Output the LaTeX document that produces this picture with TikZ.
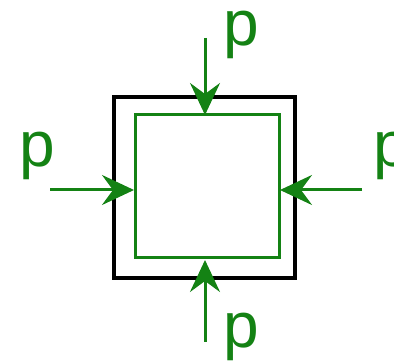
\documentclass[tikz,border=0pt]{standalone}
\usepackage{fontspec}
\setmainfont{Liberation Sans}
\usetikzlibrary{arrows.meta}
\definecolor{pgreen}{RGB}{20,130,20}
\begin{document}
\begin{tikzpicture}[x=1pt,y=-1pt,
  lbl/.style={text=pgreen,font=\fontsize{64}{70}\selectfont,inner sep=0pt,anchor=north west},
  force/.style={draw=pgreen,line width=3pt,-{Stealth[length=32pt,width=30pt,inset=11pt]}},
  outerbox/.style={draw=black,line width=4.2pt,minimum width=181pt,minimum height=181pt,inner sep=0pt},
  innerbox/.style={draw=pgreen,line width=3pt,minimum width=144pt,minimum height=143pt,inner sep=0pt}]
\useasboundingbox (0,0) rectangle (394,363);
\node[outerbox] (outer) at (204.5,187.5) {};
\node[innerbox] (inner) at (207,186.5) {};
\coordinate (ttip) at (205,115);
\coordinate (btip) at (205,260);
\coordinate (ltip) at (134,190);
\coordinate (rtip) at (280,190);
\coordinate (tstart) at (205,38);
\coordinate (bstart) at (205,342);
\coordinate (lstart) at (50,190);
\coordinate (rstart) at (362,190);
\draw[force] (tstart) -- (ttip);
\draw[force] (bstart) -- (btip);
\draw[force] (lstart) -- (ltip);
\draw[force] (rstart) -- (rtip);
\node[lbl] (pt) at (223,11) {p};
\node[lbl] (pl) at (19,132) {p};
\node[lbl] (pr) at (373,132) {p};
\node[lbl] (pb) at (223,313) {p};
\end{tikzpicture}
\end{document}
